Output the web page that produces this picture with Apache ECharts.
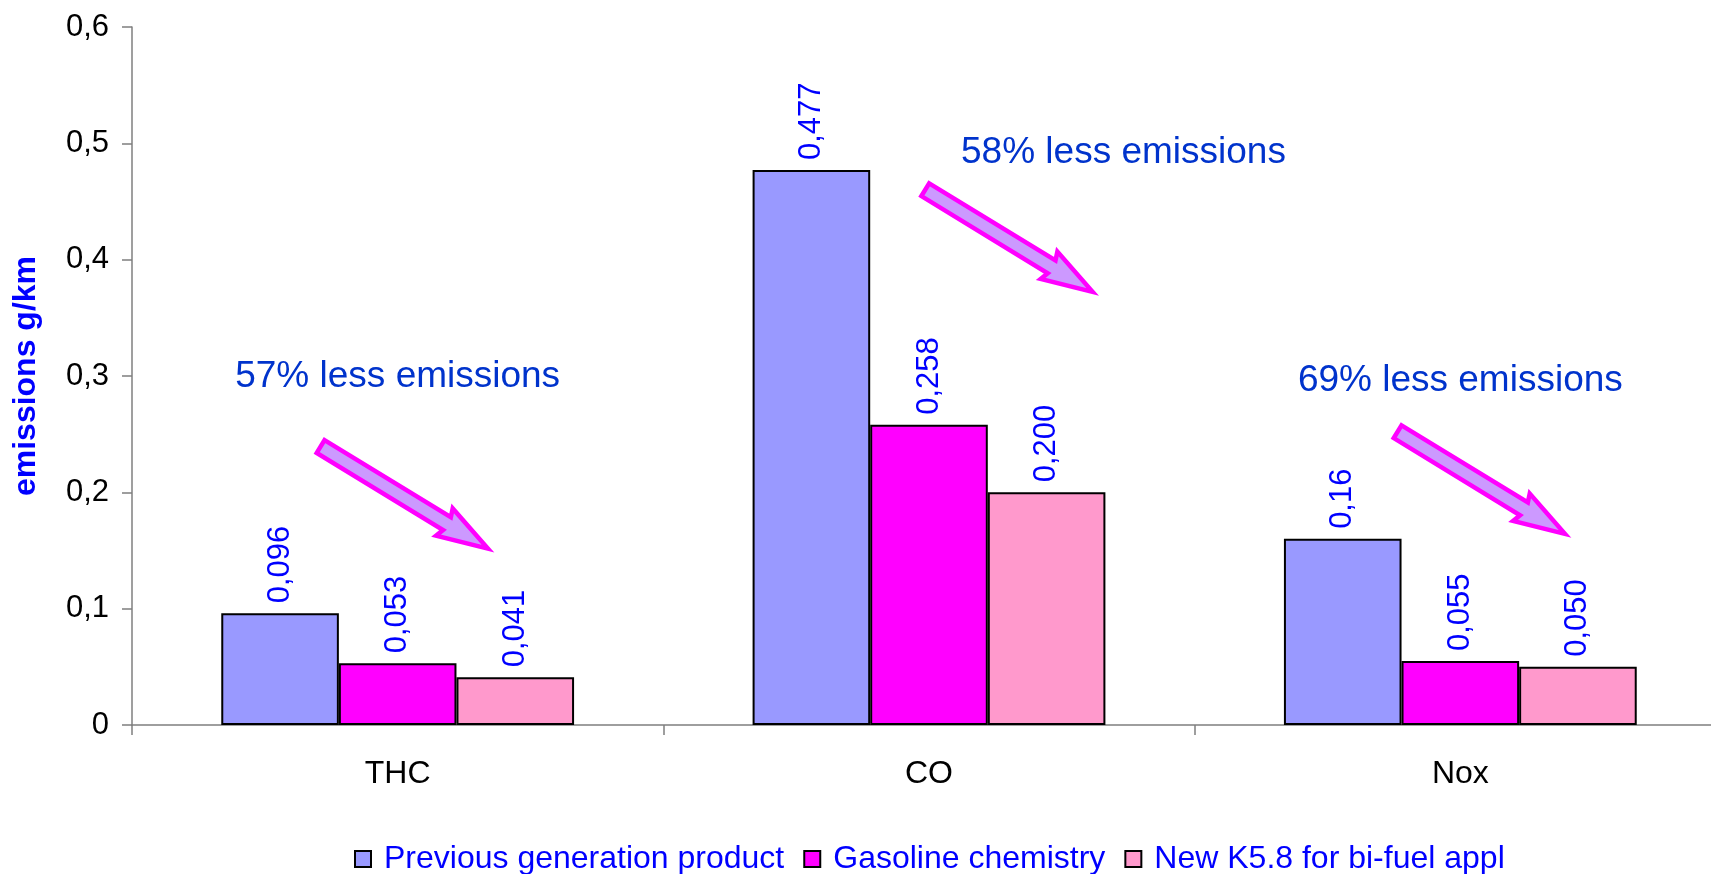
<!DOCTYPE html>
<html>
<head>
<meta charset="utf-8">
<title>Emissions g/km</title>
<script src="https://cdn.jsdelivr.net/npm/echarts@6/dist/echarts.min.js"></script>
<style>
  html, body { margin: 0; padding: 0; background: #ffffff; overflow: hidden; }
  /* the plot runs slightly past the right edge of the window */
  #chart { width: 1726px; height: 874px; }
</style>
</head>
<body>
<div id="chart"></div>
<script>
// Pollutant categories and measured emissions (g/km)
const categories = ['THC', 'CO', 'Nox'];
const seriesNames = ['Previous generation product', 'Gasoline chemistry', 'New K5.8 for bi-fuel appl'];
const previousGen = [0.096, 0.477, 0.16];
const gasolineChem = [0.053, 0.258, 0.055];
const newK58 = [0.041, 0.200, 0.050];
// decimals shown on each value label
const previousDecimals = [3, 3, 2];
const gasolineDecimals = [3, 3, 3];
const newDecimals = [3, 3, 3];
const yTicks = { min: 0, max: 0.6, interval: 0.1 };
const yAxisTitle = 'emissions g/km';
// reduction notes, one per category
const notes = ['57% less emissions', '58% less emissions', '69% less emissions'];

const FONT = "'Liberation Sans', Arial, sans-serif";
const colors = ['#9999FF', '#FF00FF', '#FF99CC'];

const chartWidth = 1726;
const chart = echarts.init(document.getElementById('chart'), null, { renderer: 'canvas' });

function comma(v, d) {
  return v.toFixed(d).replace('.', ',');
}

function barSeries(name, data, decimals, color) {
  return {
    name: name,
    type: 'bar',
    data: data,
    barGap: '0%',
    barCategoryGap: '33.6%',
    itemStyle: { color: color, borderColor: '#000000', borderWidth: 2 },
    label: {
      show: true,
      position: 'top',
      rotate: 90,
      align: 'left',
      verticalAlign: 'middle',
      distance: 10,
      color: '#0000FF',
      fontFamily: FONT,
      fontSize: 31,
      formatter: p => comma(p.value, decimals[p.dataIndex])
    },
    emphasis: { disabled: true },
    animation: false
  };
}

// arrow outline: tail at (x, y), pointing along angle (radians, screen y down)
function arrowPoints(x, y, ang) {
  const local = [[0, -7.5], [148, -7.5], [145, -16], [196, 0], [145, 16], [148, 7.5], [0, 7.5]];
  const c = Math.cos(ang), s = Math.sin(ang);
  return local.map(([u, v]) => [x + u * c - v * s, y + u * s + v * c]);
}

const gridLeft = 132, gridTop = 27, gridRight = 0, gridBottom = 149;

chart.setOption({
  backgroundColor: '#ffffff',
  animation: false,
  grid: { left: gridLeft, top: gridTop, right: gridRight, bottom: gridBottom },
  legend: {
    data: seriesNames,
    left: 349,
    top: 838,
    icon: 'rect',
    itemWidth: 16,
    itemHeight: 16,
    itemGap: 19,
    textStyle: { color: '#0000FF', fontFamily: FONT, fontSize: 32, padding: [0, 0, 0, 8] },
    selectedMode: false
  },
  xAxis: {
    type: 'category',
    data: categories,
    axisLine: { lineStyle: { color: '#7f7f7f', width: 1.5 } },
    axisTick: { show: true, length: 10, lineStyle: { color: '#7f7f7f', width: 1.5 } },
    axisLabel: { color: '#000000', fontFamily: FONT, fontSize: 32, margin: 33 },
    splitLine: { show: false }
  },
  yAxis: {
    type: 'value',
    min: yTicks.min,
    max: yTicks.max,
    interval: yTicks.interval,
    name: yAxisTitle,
    nameLocation: 'middle',
    nameRotate: 90,
    nameGap: 90,
    nameTextStyle: { color: '#0000FF', fontFamily: FONT, fontSize: 32, fontWeight: 'bold' },
    axisLine: { show: true, lineStyle: { color: '#7f7f7f', width: 1.5 } },
    axisTick: { show: true, length: 10, lineStyle: { color: '#7f7f7f', width: 1.5 } },
    axisLabel: {
      color: '#000000', fontFamily: FONT, fontSize: 31, margin: 23,
      formatter: v => (v === 0 ? '0' : comma(v, 1))
    },
    splitLine: { show: false }
  },
  series: [
    barSeries(seriesNames[0], previousGen, previousDecimals, colors[0]),
    barSeries(seriesNames[1], gasolineChem, gasolineDecimals, colors[1]),
    barSeries(seriesNames[2], newK58, newDecimals, colors[2])
  ]
});

// Reduction notes and arrows, placed relative to each category band
const arrowAngle = Math.atan2(105, 172);
const band = (chartWidth - gridLeft - gridRight) / categories.length;
const notePlacement = [
  { tx: 0.50, ty: 377, ax: 0.355, ay: 446.5 },
  { tx: 0.866, ty: 153, ax: 0.493, ay: 189.7 },
  { tx: 0.500, ty: 381, ax: 0.382, ay: 431.7 }
];
const graphics = [];
notes.forEach((txt, i) => {
  const p = notePlacement[i];
  const x0 = gridLeft + band * i;
  graphics.push({
    type: 'text',
    x: x0 + band * p.tx,
    y: p.ty,
    style: {
      text: txt,
      fill: '#0033CC',
      font: '37px ' + FONT,
      textAlign: 'center',
      textVerticalAlign: 'middle'
    },
    silent: true
  });
  graphics.push({
    type: 'polygon',
    shape: { points: arrowPoints(x0 + band * p.ax, p.ay, arrowAngle) },
    style: { fill: '#CC99FF', stroke: '#FF00FF', lineWidth: 4.5, lineJoin: 'miter' },
    silent: true
  });
});
chart.setOption({ graphic: graphics });
</script>
</body>
</html>
